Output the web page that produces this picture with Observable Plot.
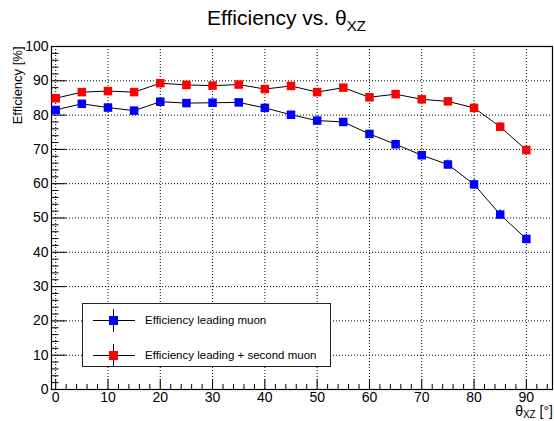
<!DOCTYPE html>
<html>
<head>
<meta charset="utf-8">
<script src="https://cdn.jsdelivr.net/npm/d3@7"></script>
<script src="https://cdn.jsdelivr.net/npm/@observablehq/plot@0.6"></script>
<style>
  body { margin: 0; background: #fff; font-family: "Liberation Sans", Arial, Helvetica, sans-serif; color: #000; }
  #wrap { position: relative; width: 554px; height: 421px; overflow: hidden; background: #fff; }
  #title { position: absolute; left: 207px; top: 7px; font-size: 21px; line-height: 21px; white-space: nowrap; }
  #title sub { font-size: 15px; vertical-align: -6px; line-height: 0; }
  #chart { position: absolute; left: 0; top: 36px; }
  #xlabel { position: absolute; right: 1px; top: 405px; font-size: 14px; line-height: 13px; white-space: nowrap; }
  #xlabel sub { font-size: 10px; vertical-align: -2px; line-height: 0; }
  #legend { position: absolute; left: 82px; top: 303px; width: 247px; height: 62px; border: 1px solid #222; background: #fff; }
  .entry { position: absolute; left: 0; height: 24px; width: 100%; }
  .entry .h { position: absolute; left: 10px; top: 11px; width: 42px; height: 1px; background: #000; }
  .entry .v { position: absolute; left: 30px; top: 0; width: 1px; height: 23px; background: #000; }
  .entry .m { position: absolute; left: 26px; top: 7px; width: 9px; height: 9px; }
  .entry .t { position: absolute; left: 62px; top: 4px; font-size: 11.5px; line-height: 14px; white-space: nowrap; }
</style>
</head>
<body>
<div id="wrap">
  <div id="title">Efficiency vs. θ<sub>XZ</sub></div>
  <div id="chart"></div>
  <div id="xlabel">θ<sub>XZ</sub> [°]</div>
  <div id="legend"></div>
</div>
<script>
// Angle bins (degrees)
const angles = [0, 5, 10, 15, 20, 25, 30, 35, 40, 45, 50, 55, 60, 65, 70, 75, 80, 85, 90];

// Efficiency for the leading muon alone [%]
const effLeading = [81.5, 83.3, 82.2, 81.3, 83.9, 83.5, 83.6, 83.7, 82.1, 80.1, 78.4, 78.0, 74.5, 71.5, 68.3, 65.6, 59.8, 51.0, 43.9];
const errLeading = [0.9, 0.9, 0.9, 0.9, 0.9, 0.9, 0.9, 0.9, 0.9, 1.0, 1.0, 1.0, 1.1, 1.2, 1.2, 1.3, 1.4, 1.4, 1.4];

// Efficiency for leading + second muon [%]
const effBoth = [84.9, 86.7, 87.0, 86.7, 89.3, 88.8, 88.6, 88.9, 87.6, 88.5, 86.7, 88.0, 85.2, 86.1, 84.6, 84.0, 82.1, 76.6, 69.8];
const errBoth = [0.8, 0.8, 0.8, 0.8, 0.8, 0.8, 0.8, 0.8, 0.8, 0.8, 0.8, 0.8, 0.9, 0.9, 0.9, 0.9, 1.0, 1.2, 1.3];

// Axis ticks
const xMajor = [0, 10, 20, 30, 40, 50, 60, 70, 80, 90];
const xMinor = [2, 4, 6, 8, 12, 14, 16, 18, 22, 24, 26, 28, 32, 34, 36, 38, 42, 44, 46, 48, 52, 54, 56, 58, 62, 64, 66, 68, 72, 74, 76, 78, 82, 84, 86, 88, 92, 94];
const yMajor = [0, 10, 20, 30, 40, 50, 60, 70, 80, 90, 100];
const yMinor = [2, 4, 6, 8, 12, 14, 16, 18, 22, 24, 26, 28, 32, 34, 36, 38, 42, 44, 46, 48, 52, 54, 56, 58, 62, 64, 66, 68, 72, 74, 76, 78, 82, 84, 86, 88, 92, 94, 96, 98];

const series = [
  {name: "Efficiency leading muon", color: "#0000ff", eff: effLeading, err: errLeading},
  {name: "Efficiency leading + second muon", color: "#ff0000", eff: effBoth, err: errBoth}
];

const rows = series.flatMap(s => angles.map((a, i) => ({
  series: s.name, color: s.color, angle: a, eff: s.eff[i], lo: s.eff[i] - s.err[i], hi: s.eff[i] + s.err[i]
})));

const W = 554, H = 385, mt = 10, mb = 32, ml = 51, mr = 2;
const innerH = H - mt - mb, innerW = W - ml - mr;

const chart = Plot.plot({
  width: W, height: H,
  marginTop: mt, marginBottom: mb, marginLeft: ml, marginRight: mr,
  style: {fontFamily: '"Liberation Sans", Arial, Helvetica, sans-serif', fontSize: "14px", color: "#000", background: "#fff"},
  x: {domain: [-0.8, 95]},
  y: {domain: [0, 100]},
  marks: [
    Plot.gridX(xMajor, {stroke: "#000", strokeOpacity: 1, strokeDasharray: "1,2"}),
    Plot.gridY(yMajor.filter(v => v > 0 && v < 100), {stroke: "#000", strokeOpacity: 1, strokeDasharray: "1,2"}),
    Plot.tickX(xMajor, {x: d => d, insetTop: innerH - 10, stroke: "#000"}),
    Plot.tickX(xMinor, {x: d => d, insetTop: innerH - 5, stroke: "#000"}),
    Plot.tickY(yMajor, {y: d => d, insetRight: innerW - 15, stroke: "#000"}),
    Plot.tickY(yMinor, {y: d => d, insetRight: innerW - 7.5, stroke: "#000"}),
    Plot.frame({stroke: "#000", strokeWidth: 1.2}),
    Plot.axisX({ticks: xMajor, tickSize: 0, tickPadding: 3, label: null, fontSize: 14}),
    Plot.axisY({ticks: yMajor, tickSize: 0, tickPadding: 3, label: null, fontSize: 14}),
    Plot.text(["Efficiency [%]"], {frameAnchor: "top-left", dx: -39, rotate: -90, textAnchor: "end", fontSize: 13}),
    Plot.line(rows, {x: "angle", y: "eff", z: "series", stroke: "#000", strokeWidth: 1}),
    Plot.ruleX(rows, {x: "angle", y1: "lo", y2: "hi", stroke: "#000", strokeWidth: 1}),
    Plot.dot(rows, {x: "angle", y: "eff", symbol: "square", r: 4.8, fill: "color", stroke: "none"})
  ]
});
document.getElementById("chart").appendChild(chart);

// Legend entries
const legend = document.getElementById("legend");
series.forEach((s, i) => {
  const e = document.createElement("div");
  e.className = "entry";
  e.style.top = (5 + i * 35) + "px";
  e.innerHTML = `<div class="h"></div><div class="v"></div><div class="m" style="background:${s.color}"></div><div class="t">${s.name}</div>`;
  legend.appendChild(e);
});
</script>
</body>
</html>
